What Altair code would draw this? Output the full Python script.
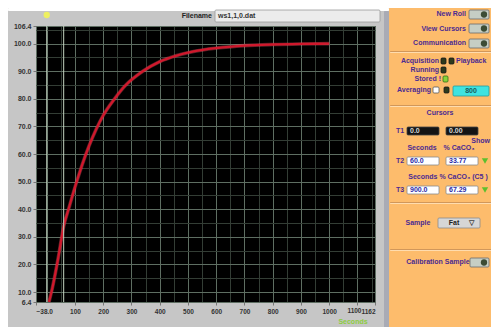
import altair as alt
import pandas as pd

# ---- data ----
t_sec = [8, 20, 40, 60, 80, 100, 125, 150, 175, 200, 240, 280, 340, 400, 460, 520, 600, 700, 800, 900, 1000]
pct = [6.4, 11.5, 22.0, 33.8, 41.0, 48.0, 56.0, 63.0, 69.0, 74.0, 80.0, 85.0, 90.0, 93.5, 95.7, 97.2, 98.4, 99.3, 99.7, 99.9, 100.0]

x_domain = [-38, 1162]
y_domain = [6.4, 106.4]
x_ticks = [-38, 100, 200, 300, 400, 500, 600, 700, 800, 900, 1000, 1100, 1162]
y_ticks = [6.4, 10, 20, 30, 40, 50, 60, 70, 80, 90, 100, 106.4]
x_minor_grid = [50, 150, 250, 350, 450, 550, 650, 750, 850, 950, 1050, 1150]
y_minor_grid = [15, 25, 35, 45, 55, 65, 75, 85, 95, 105]
x_crowded_label = [1100]
cursor_x = [0, 60]

# ---- layout helpers (reference pixel -> plot pixel) ----
OX, OY = 36, 26
PW, PH = 339, 276
TOTAL_W, TOTAL_H = 483, 319


def P(rx, ry):
    return rx - OX, ry - OY


PURPLE = "#4b2a92"
BLUE = "#2a2aa8"
SEP_D, SEP_L = "#d1975a", "#ffdcae"
TOG_F, TOG_S = "#c6cec4", "#6a6a6a"
LED_F, LED_S = "#2e3a1c", "#1a1a1a"

rect_rows = [
    (8, 8, 389, 11, "#ffffff", "transparent"),
    (384, 11, 389, 335, "#a9abb5", "transparent"),
    (389, 8, 499, 335, "#fdbc6c", "transparent"),
    (390, 51, 499, 52, SEP_D, "transparent"),
    (390, 52, 499, 53, SEP_L, "transparent"),
    (390, 105, 499, 106, SEP_D, "transparent"),
    (390, 106, 499, 107, SEP_L, "transparent"),
    (390, 202, 499, 203, SEP_D, "transparent"),
    (390, 203, 499, 204, SEP_L, "transparent"),
    (390, 249, 499, 250, SEP_D, "transparent"),
    (390, 250, 499, 251, SEP_L, "transparent"),
    (215, 10, 380, 22, "#ececec", "#9a9a9a"),
    (469, 10, 489, 19, TOG_F, TOG_S),
    (469, 24, 489, 33, TOG_F, TOG_S),
    (469, 39, 489, 48, TOG_F, TOG_S),
    (470, 258, 489, 267, TOG_F, TOG_S),
    (441, 58, 446, 64, LED_F, LED_S),
    (449, 58, 454, 64, LED_F, LED_S),
    (441, 67, 446, 73, LED_F, LED_S),
    (443, 76, 448, 82, "#86d43a", "#3a6a1a"),
    (444, 87, 449, 93, LED_F, LED_S),
    (433, 87, 439, 93, "#ffffff", "#555555"),
    (453, 86, 489, 96, "#3fe3e0", "#2a9a9a"),
    (407, 127, 439, 135, "#141414", "#444444"),
    (446, 127, 478, 135, "#141414", "#444444"),
    (407, 157, 439, 165, "#ffffff", "#888888"),
    (446, 157, 478, 165, "#ffffff", "#888888"),
    (407, 186, 439, 194, "#ffffff", "#888888"),
    (446, 186, 478, 194, "#ffffff", "#888888"),
    (438, 218, 480, 228, "#d6d6d6", "#8a8a8a"),
]
rdf = pd.DataFrame(
    [dict(x=P(a, b)[0], y=P(a, b)[1], x2=P(c, d)[0], y2=P(c, d)[1], fill=f, stroke=s)
     for a, b, c, d, f, s in rect_rows]
)
rects = alt.Chart(rdf).mark_rect(strokeWidth=0.8, cornerRadius=1).encode(
    x=alt.X("x:Q", scale=None, axis=None),
    x2="x2",
    y=alt.Y("y:Q", scale=None, axis=None),
    y2="y2",
    fill=alt.Fill("fill:N", scale=None),
    stroke=alt.Stroke("stroke:N", scale=None),
)

knob_rows = [(484, 14.5, "circle", "#3c4c34"), (484, 28.5, "circle", "#3c4c34"),
             (484, 43.5, "circle", "#3c4c34"), (484, 262.5, "circle", "#3c4c34"),
             (485, 161, "triangle-down", "#5cbf2e"), (485, 190, "triangle-down", "#5cbf2e")]
kdf = pd.DataFrame([dict(x=P(a, b)[0], y=P(a, b)[1], shape=s, fill=f) for a, b, s, f in knob_rows])
knobs = alt.Chart(kdf).mark_point(filled=True, size=40, opacity=1).encode(
    x=alt.X("x:Q", scale=None, axis=None),
    y=alt.Y("y:Q", scale=None, axis=None),
    shape=alt.Shape("shape:N", scale=None),
    color=alt.Color("fill:N", scale=None),
)

text_rows = [
    # text, rx, ry, align, color
    ("New Roll", 466, 14, "right", PURPLE),
    ("View Cursors", 466, 29, "right", PURPLE),
    ("Communication", 466, 43, "right", PURPLE),
    ("Acquisition", 439, 61, "right", PURPLE),
    ("Running", 439, 70, "right", PURPLE),
    ("Stored !", 441, 79, "right", PURPLE),
    ("Averaging", 431, 90, "right", PURPLE),
    ("Playback", 456, 61, "left", PURPLE),
    ("Cursors", 440, 113, "center", PURPLE),
    ("T1", 400, 131, "center", PURPLE),
    ("T2", 400, 161, "center", PURPLE),
    ("T3", 400, 190, "center", PURPLE),
    ("Seconds", 422, 148, "center", PURPLE),
    ("% CaCO\u2083", 459, 148, "center", PURPLE),
    ("Show", 490, 141, "right", PURPLE),
    ("Seconds  % CaCO\u2083 (C5 )", 448, 177, "center", PURPLE),
    ("Sample", 418, 223, "center", PURPLE),
    ("Calibration Sample", 438, 262, "center", PURPLE),
    ("0.0", 410, 131, "left", "#d8d8d8"),
    ("0.00", 449, 131, "left", "#d8d8d8"),
    ("60.0", 410, 161, "left", BLUE),
    ("33.77", 449, 161, "left", BLUE),
    ("900.0", 410, 190, "left", BLUE),
    ("67.29", 449, 190, "left", BLUE),
    ("800", 471, 91, "center", "#1a5a5a"),
    ("Fat", 454, 223, "center", "#222222"),
    ("\u25bd", 471, 223, "center", "#444444"),
    ("Filename", 212, 16, "right", "#222222"),
    ("ws1,1,0.dat", 218, 16, "left", "#333333"),
    ("Seconds", 353, 322, "center", "#8ccc40"),
]
tdf = pd.DataFrame([dict(t=t, x=P(a, b)[0], y=P(a, b)[1], align=al, color=c)
                    for t, a, b, al, c in text_rows])


def text_layer(al):
    return alt.Chart(tdf[tdf["align"] == al]).mark_text(
        align=al, baseline="middle", fontSize=7, fontWeight="bold", font="Liberation Sans"
    ).encode(
        x=alt.X("x:Q", scale=None, axis=None),
        y=alt.Y("y:Q", scale=None, axis=None),
        text="t:N",
        color=alt.Color("color:N", scale=None),
    )


# ---- data layers ----
MAJOR, MINOR = "#5e6e62", "#333d35"
xs = alt.Scale(domain=x_domain, nice=False, zero=False)
ys = alt.Scale(domain=y_domain, nice=False, zero=False)
x_is_minor = "datum.value % 100 == 50 || datum.value == 0"
y_is_minor = "datum.value % 10 == 5"
x_label = ("datum.value % 100 == 50 || datum.value == 0 || datum.value == 1100 ? '' : "
           "(datum.value < 0 ? format(datum.value, '.1f') : format(datum.value, 'd'))")
y_label = "datum.value % 10 == 5 ? '' : format(datum.value, '.1f')"
x_axis = alt.Axis(values=x_ticks + x_minor_grid + [0], labelExpr=x_label, grid=True,
                  gridColor=alt.condition("datum.value % 100 == 50", alt.value(MINOR), alt.value(MAJOR)),
                  gridWidth=1, domain=False, title=None,
                  tickColor="#777777", tickSize=3,
                  tickOpacity=alt.condition(x_is_minor, alt.value(0), alt.value(1)),
                  labelFontSize=6.5, labelColor="#333333",
                  labelFontWeight="bold", labelFont="Liberation Sans", labelOverlap=False,
                  labelPadding=3)
y_axis = alt.Axis(values=y_ticks + y_minor_grid, labelExpr=y_label, grid=True,
                  gridColor=alt.condition(y_is_minor, alt.value(MINOR), alt.value(MAJOR)),
                  gridWidth=1, domain=False, title=None,
                  tickColor="#777777", tickSize=3,
                  tickOpacity=alt.condition(y_is_minor, alt.value(0), alt.value(1)),
                  labelFontSize=7, labelColor="#333333",
                  labelFontWeight="bold", labelFont="Liberation Sans", labelOverlap=False,
                  labelPadding=2)

curve_df = pd.DataFrame({"t": t_sec, "p": pct})
curve = alt.Chart(curve_df).mark_line(color="#d0182c", strokeWidth=2.3, interpolate="monotone").encode(
    x=alt.X("t:Q", scale=xs, axis=x_axis, title=None),
    y=alt.Y("p:Q", scale=ys, axis=y_axis, title=None),
)
glow = alt.Chart(curve_df).mark_line(color="#ff6070", strokeWidth=3.6, opacity=0.35,
                                     interpolate="monotone").encode(
    x=alt.X("t:Q", scale=xs, axis=x_axis, title=None),
    y=alt.Y("p:Q", scale=ys, axis=y_axis, title=None))

cursors = alt.Chart(pd.DataFrame({"v": cursor_x})).mark_rule(color="#c4d4c0", strokeWidth=1).encode(
    x=alt.X("v:Q", scale=xs, axis=x_axis, title=None))

cursor_knob = alt.Chart(pd.DataFrame({"v": cursor_x[:1]})).mark_point(
    filled=True, color="#eef060", size=40, opacity=1).encode(
    x=alt.X("v:Q", scale=xs, axis=x_axis, title=None), y=alt.value(P(0, 15)[1]))

# the crowded "1100" tick label, nudged left of its tick so it clears the end label
crowded = alt.Chart(pd.DataFrame({"v": x_crowded_label})).mark_text(
    align="right", baseline="top", dx=4, fontSize=6.5, fontWeight="bold",
    font="Liberation Sans", color="#333333").encode(
    x=alt.X("v:Q", scale=xs, axis=x_axis, title=None), y=alt.value(PH + 6),
    text=alt.Text("v:Q", format="d"))

chart = alt.layer(
    glow, curve, cursors, cursor_knob, crowded,
    rects, knobs, text_layer("left"), text_layer("center"), text_layer("right"),
).properties(
    width=PW, height=PH,
    padding={"left": OX - 8, "top": OY - 8,
             "right": TOTAL_W - (OX - 8) - PW, "bottom": TOTAL_H - (OY - 8) - PH},
    autosize=alt.AutoSizeParams(type="none"),
).configure(background="#c6c6c6").configure_view(fill="#000000", stroke="#303030")

chart.save("out.html", embed_options={"renderer": "svg", "actions": False})
